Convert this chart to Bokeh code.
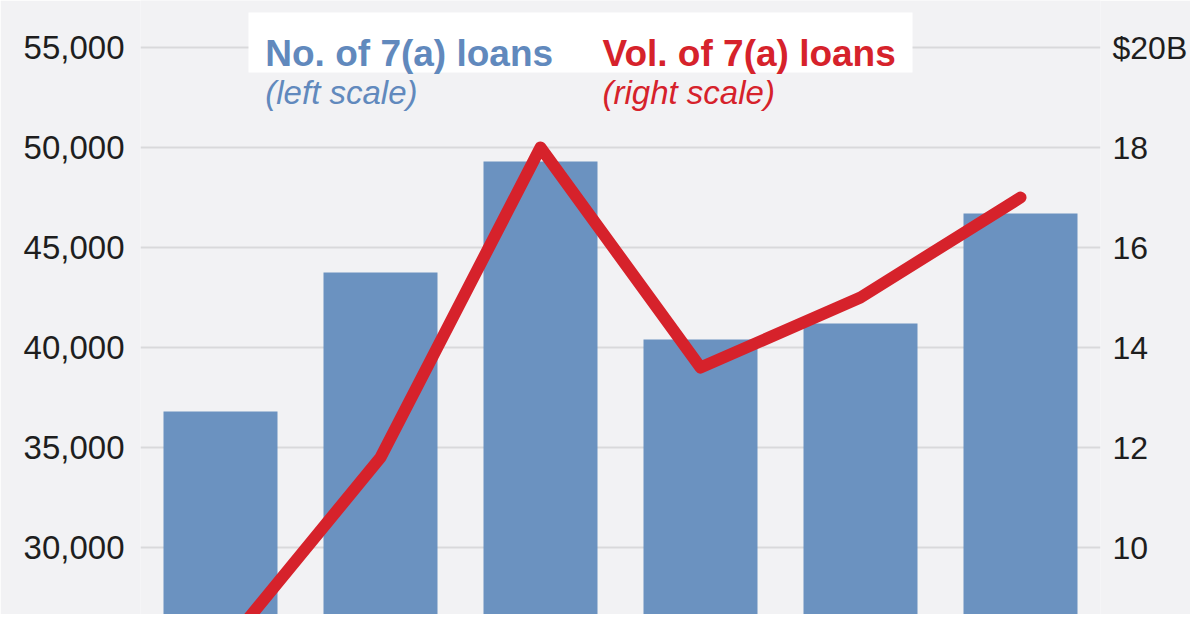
from bokeh.plotting import figure
from bokeh.models import (Range1d, LinearAxis, FixedTicker, NumeralTickFormatter,
                          BoxAnnotation, Label)
from bokeh.embed import file_html
from bokeh.resources import INLINE

# ---- data ----
positions = [0.5, 1.5, 2.5, 3.5, 4.5, 5.5]          # six periods (x labels cropped out)
loan_counts = [36800, 43750, 49300, 40400, 41200, 46700]   # No. of 7(a) loans (left scale)
loan_volume = [7.9, 11.8, 18.0, 13.6, 15.0, 17.0]          # Vol. of 7(a) loans, $B (right scale)
left_ticks = [30000, 35000, 40000, 45000, 50000, 55000]
right_ticks = [10, 12, 14, 16, 18, 20]
right_labels = {20: "$20B"}

BG = "#f2f2f4"
BLUE = "#6b92c0"
BLUE_TXT = "#6189bd"
RED = "#d6222b"
AXIS_FONT = "Liberation Sans"

p = figure(frame_width=960, frame_height=614, output_backend="svg", toolbar_location=None,
           x_range=Range1d(0, 6), y_range=Range1d(26650, 57350),
           min_border_left=140, min_border_right=0, min_border_top=0, min_border_bottom=0)
p.extra_y_ranges = {"vol": Range1d(8.66, 20.94)}

p.background_fill_color = BG
p.border_fill_color = BG
p.outline_line_color = None

# bars and line
p.vbar(x=positions, top=loan_counts, bottom=0, width=0.7125, color=BLUE, line_color=None)
p.line(x=positions, y=loan_volume, y_range_name="vol", line_color=RED, line_width=12,
       line_join="round", line_cap="round")

# axes
p.xaxis.visible = False
p.xgrid.visible = False
p.ygrid.grid_line_color = "#d9d9db"
p.ygrid.grid_line_width = 2
p.ygrid.level = "underlay"

ya = p.yaxis[0]
ya.ticker = FixedTicker(ticks=left_ticks)
ya.formatter = NumeralTickFormatter(format="0,0")
ya.axis_line_color = None
ya.major_tick_line_color = None
ya.minor_tick_line_color = None
ya.major_label_standoff = 10
ya.major_label_text_font = AXIS_FONT
ya.major_label_text_font_size = "33px"
ya.major_label_text_color = "#1e1e1e"

ra = LinearAxis(y_range_name="vol", ticker=FixedTicker(ticks=right_ticks),
                major_label_overrides=right_labels)
ra.axis_line_color = None
ra.major_tick_line_color = None
ra.minor_tick_line_color = None
ra.major_label_standoff = 6
ra.major_label_text_font = AXIS_FONT
ra.major_label_text_font_size = "32px"
ra.major_label_text_color = "#1e1e1e"
p.add_layout(ra, "right")

# legend box
p.add_layout(BoxAnnotation(left=0.675, right=4.825, top=56750, bottom=53750,
                           fill_color="white", fill_alpha=1.0, line_color=None))

p.add_layout(Label(x=0.78, y=54680, text="No. of 7(a) loans", text_font="Liberation Sans",
                   text_font_style="bold", text_font_size="37px", text_color=BLUE_TXT,
                   text_baseline="alphabetic"))
p.add_layout(Label(x=0.78, y=52750, text="(left scale)", text_font="Liberation Sans",
                   text_font_style="italic", text_font_size="33px", text_color=BLUE_TXT,
                   text_baseline="alphabetic"))
p.add_layout(Label(x=2.8875, y=54680, text="Vol. of 7(a) loans", text_font="Liberation Sans",
                   text_font_style="bold", text_font_size="37px", text_color=RED,
                   text_baseline="alphabetic"))
p.add_layout(Label(x=2.8875, y=52750, text="(right scale)", text_font="Liberation Sans",
                   text_font_style="italic", text_font_size="33px", text_color=RED,
                   text_baseline="alphabetic"))

open("out.html", "w").write(file_html(p, INLINE))
